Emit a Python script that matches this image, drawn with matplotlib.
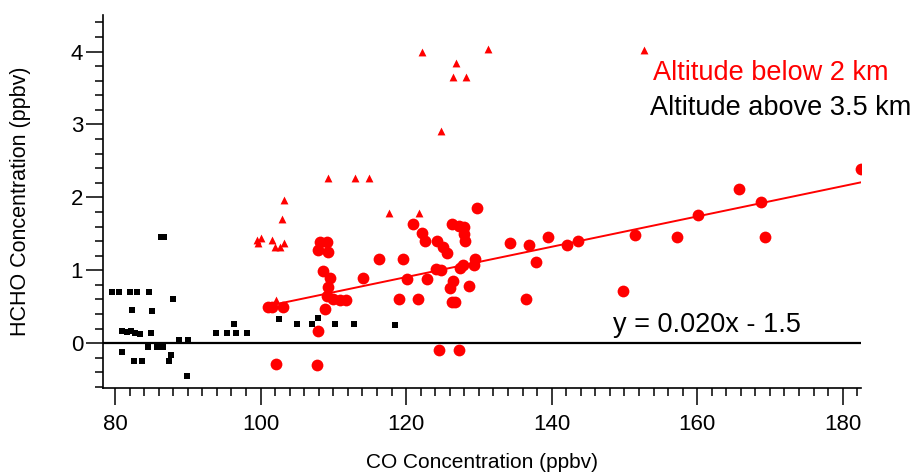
import numpy as np
import matplotlib
matplotlib.use("Agg")
from matplotlib import pyplot as plt
from matplotlib.ticker import MultipleLocator

plt.rcParams['font.family'] = ['Liberation Sans', 'DejaVu Sans']

# altitude above 3.5 km (black squares)
hi_co = [86.36, 86.69, 79.59, 80.51, 82.02, 83.02, 84.71, 88.01, 82.29, 85.04,
         80.89, 81.65, 82.20, 82.75, 83.44, 84.95, 88.80, 90.07, 80.92, 84.49,
         85.73, 86.64, 87.70, 87.46, 82.65, 83.67, 89.85,
         93.88, 95.43, 96.59, 98.10, 96.35, 102.58, 104.97, 107.11, 107.86,
         110.23, 112.88, 118.44]
hi_hcho = [1.46, 1.46, 0.70, 0.70, 0.70, 0.70, 0.70, 0.60, 0.46, 0.44,
           0.16, 0.15, 0.17, 0.14, 0.12, 0.14, 0.04, 0.04, -0.12, -0.05,
           -0.05, -0.05, -0.16, -0.25, -0.24, -0.24, -0.45,
           0.14, 0.14, 0.14, 0.14, 0.26, 0.33, 0.26, 0.26, 0.34,
           0.26, 0.26, 0.25]

# altitude below 2 km (red circles)
lo_co = [101.07, 101.53, 103.13, 108.17, 109.17, 107.94, 109.31, 108.54, 109.54,
         109.31, 109.17, 110.00, 110.92, 111.74, 108.90, 107.90, 102.12, 107.80,
         114.04, 116.32, 119.62, 120.17, 119.07, 121.68, 120.91, 122.19, 122.56,
         122.83, 124.21, 125.11, 125.58, 124.11, 124.76, 126.31, 127.31, 127.96,
         127.96, 128.10, 127.41, 127.87, 129.47, 129.33, 126.41, 126.04, 126.27,
         126.72, 128.69, 129.79, 134.28, 124.52, 127.31, 136.93, 137.81, 136.44,
         139.46, 142.07, 143.58, 151.46, 149.85, 157.19, 160.16, 165.79, 168.77,
         169.32, 182.47]
lo_hcho = [0.50, 0.50, 0.50, 1.39, 1.39, 1.28, 1.25, 0.99, 0.89,
           0.77, 0.64, 0.61, 0.59, 0.59, 0.47, 0.17, -0.28, -0.30,
           0.89, 1.16, 1.16, 0.885, 0.61, 0.61, 1.63, 1.51, 1.40,
           0.885, 1.40, 1.32, 1.24, 1.02, 1.01, 1.63, 1.61, 1.60,
           1.50, 1.40, 1.03, 1.07, 1.16, 1.07, 0.85, 0.75, 0.56,
           0.56, 0.79, 1.85, 1.37, -0.10, -0.10, 1.34, 1.11, 0.61,
           1.45, 1.35, 1.40, 1.49, 0.71, 1.46, 1.76, 2.11, 1.93,
           1.46, 2.39]

# below 2 km, flagged points (red triangles)
tri_co = [109.31, 112.98, 114.95, 103.27, 102.95, 99.55, 100.06, 101.53, 99.69,
          101.99, 102.67, 103.22, 102.12, 117.69, 121.82, 122.15, 131.30, 126.86,
          126.49, 128.23, 124.80, 152.74]
tri_hcho = [2.27, 2.27, 2.27, 1.96, 1.70, 1.42, 1.44, 1.42, 1.37,
            1.32, 1.32, 1.37, 0.59, 1.79, 1.79, 4.00, 4.03, 3.84,
            3.65, 3.65, 2.91, 4.02]

fit_x = [101.9, 182.47]
slope, intercept = 0.0208, -1.59

fig = plt.figure(figsize=(9.21, 4.73), dpi=100)
ax = fig.add_axes([0.1122, 0.179, 0.8223, 0.789])

ax.axhline(0, color='black', lw=1.6, zorder=1)
ax.scatter(hi_co, hi_hcho, marker='s', s=24, color='black', linewidths=0, zorder=3)
ax.scatter(tri_co, tri_hcho, marker='^', s=32, color='red', linewidths=0, zorder=3)
ax.scatter(lo_co, lo_hcho, marker='o', s=72, color='red', linewidths=0, zorder=3)
fx = np.array(fit_x)
ax.plot(fx, slope * fx + intercept, color='red', lw=1.4, zorder=2)

ax.set_xlim(78.39, 182.47)
ax.set_ylim(-0.62, 4.5)
for s in ['top', 'right']:
    ax.spines[s].set_visible(False)
for s in ['left', 'bottom']:
    ax.spines[s].set_linewidth(1.2)

ax.xaxis.set_major_locator(MultipleLocator(20))
ax.xaxis.set_minor_locator(MultipleLocator(2))
ax.yaxis.set_major_locator(MultipleLocator(1))
ax.yaxis.set_minor_locator(MultipleLocator(0.2))
ax.tick_params(which='major', length=12.5, width=1.1, labelsize=16, pad=2)
ax.tick_params(which='minor', length=6, width=1.1)
ax.tick_params(axis='x', which='major', pad=6)

ax.set_xlabel('CO Concentration (ppbv)', fontsize=15)
ax.set_ylabel('HCHO Concentration (ppbv)', fontsize=15.5)
ax.xaxis.set_label_coords(0.5, -0.172)
ax.yaxis.set_label_coords(-0.095, 0.5)

ax.text(0.726, 0.845, 'Altitude below 2 km', color='red', fontsize=19.5,
        transform=ax.transAxes, va='center')
ax.text(0.722, 0.751, 'Altitude above 3.5 km', color='black', fontsize=19.5,
        transform=ax.transAxes, va='center')
ax.text(0.673, 0.170, 'y = 0.020x - 1.5', color='black', fontsize=19.5,
        transform=ax.transAxes, va='center')

fig.savefig('out.png', dpi=100)
